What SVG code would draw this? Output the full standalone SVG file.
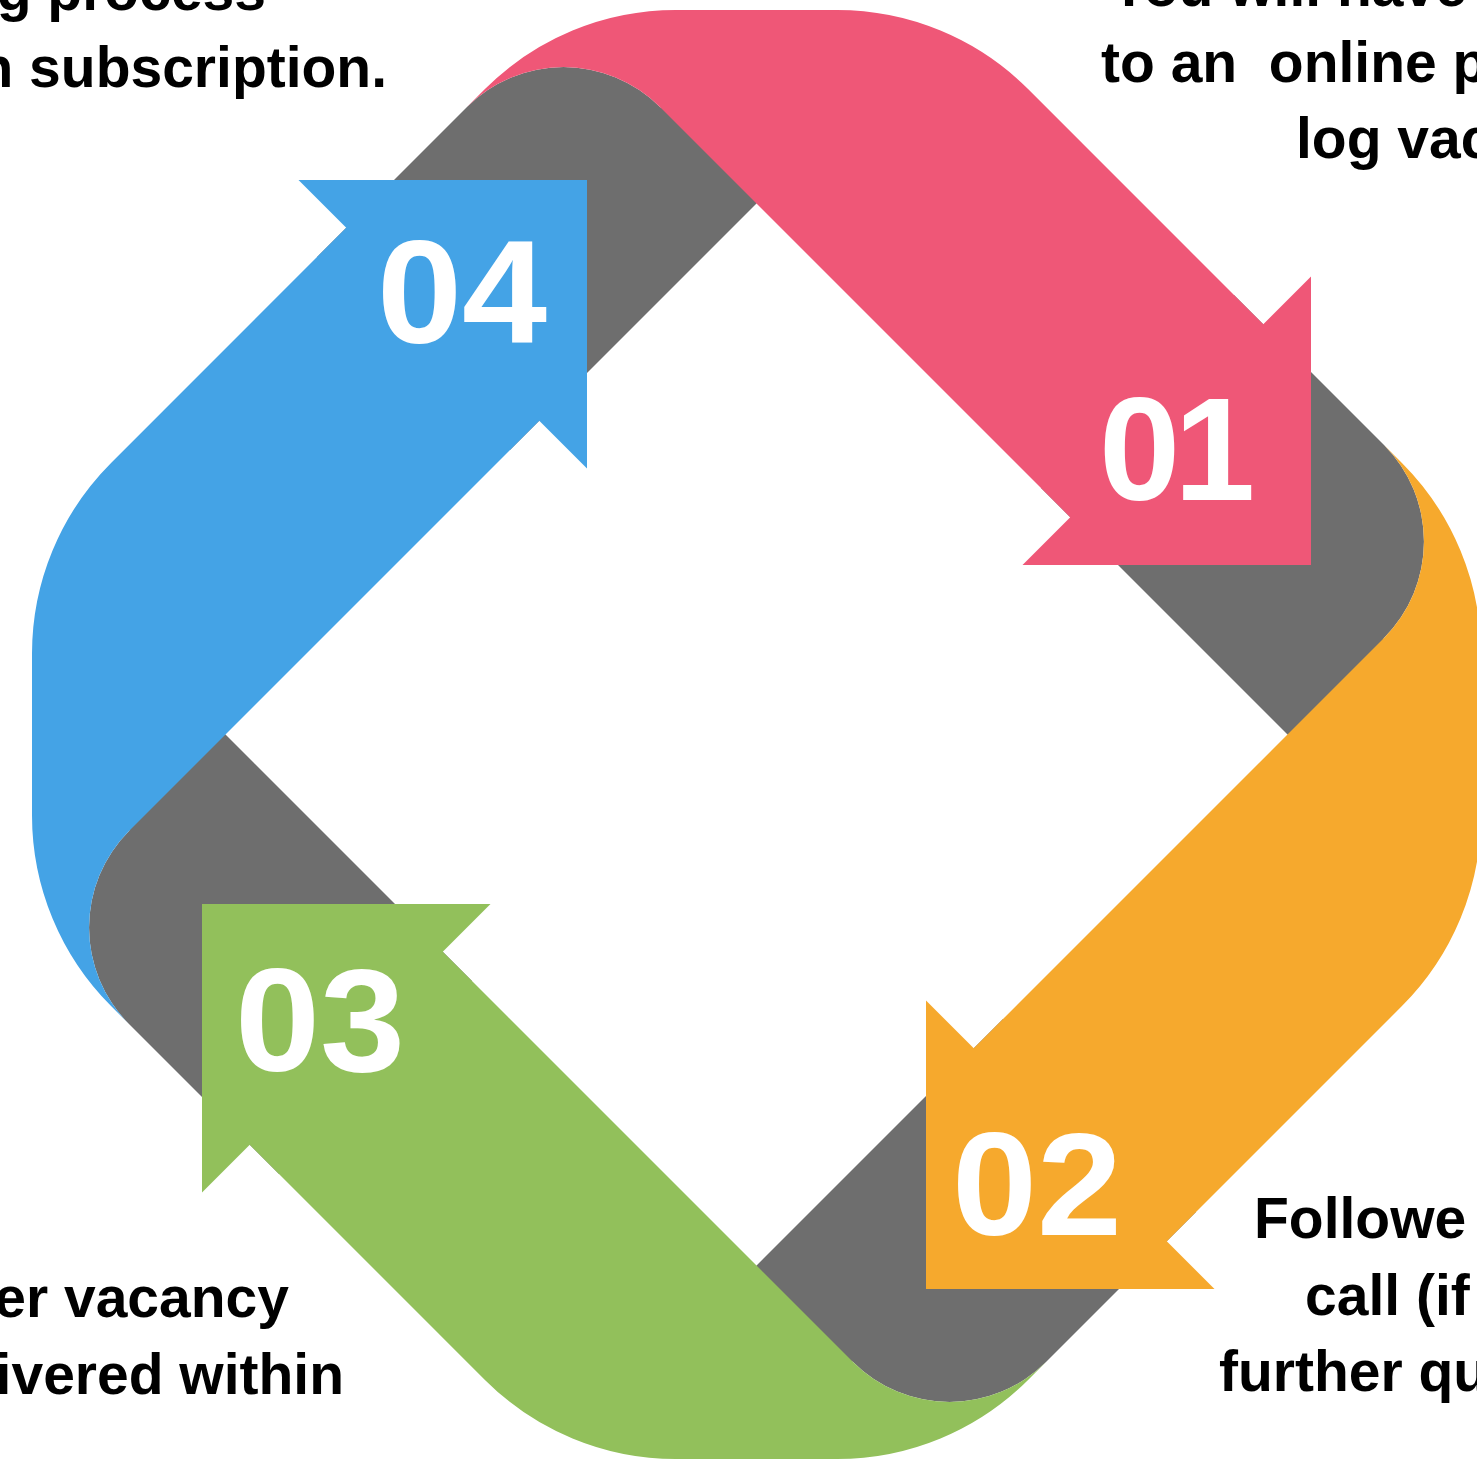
<svg xmlns="http://www.w3.org/2000/svg" xmlns:xlink="http://www.w3.org/1999/xlink" width="1477" height="1461" viewBox="0 0 1477 1461">
<style>
.txt{font-family:"Liberation Sans",Arial,sans-serif;font-weight:700;font-size:57px;fill:#000}
.num{font-family:"Liberation Sans",Arial,sans-serif;font-weight:700;font-size:146px;fill:#fff}
.fold{fill:#6e6e6e}
</style>
<defs>
<path id="strap" d="M467,107 A136.5,136.5 0 0 1 660,107 L1070.25,517.25 L1022.5,565 L1311,565 L1311,276.5 L1263.25,324.25 L1028.05,89.05 A270,270 0 0 0 837.2,10 L675.8,10 A270,270 0 0 0 484.95,89.05 Z"/>
<path id="foldshape" d="M467,107 A136.5,136.5 0 0 1 660,107 L780,180 L510,450 L317,257 Z"/>
</defs>
<rect width="1477" height="1461" fill="#fff"/>
<g id="connectors">
<use href="#foldshape" class="fold"/>
<use href="#foldshape" class="fold" transform="rotate(90 756.5 734.5)"/>
<use href="#foldshape" class="fold" transform="rotate(180 756.5 734.5)"/>
<use href="#foldshape" class="fold" transform="rotate(270 756.5 734.5)"/>
</g>
<g id="step-01">
<use href="#strap" fill="#ef5777"/>
<text class="num" x="1099 1174" y="500">01</text>
</g>
<g id="step-02">
<use href="#strap" fill="#f6a92d" transform="rotate(90 756.5 734.5)"/>
<text class="num" x="952" y="1235" textLength="170" lengthAdjust="spacingAndGlyphs">02</text>
</g>
<g id="step-03">
<use href="#strap" fill="#92c05b" transform="rotate(180 756.5 734.5)"/>
<text class="num" x="235" y="1071" textLength="170" lengthAdjust="spacingAndGlyphs">03</text>
</g>
<g id="step-04">
<use href="#strap" fill="#44a3e6" transform="rotate(270 756.5 734.5)"/>
<text class="num" x="377" y="343" textLength="170" lengthAdjust="spacingAndGlyphs">04</text>
</g>
<g id="labels">
<text class="txt" x="266" y="10" text-anchor="end">g process</text>
<text class="txt" x="387" y="87" text-anchor="end">n subscription.</text>
<text class="txt" x="1110" y="6">You will have</text>
<text class="txt" x="1101" y="82" style="white-space:pre">to an  online p</text>
<text class="txt" x="1296" y="158">log vac</text>
<text class="txt" x="289" y="1317" text-anchor="end">er vacancy</text>
<text class="txt" x="344" y="1394" text-anchor="end">ivered within</text>
<text class="txt" x="1254" y="1238">Followe</text>
<text class="txt" x="1305" y="1315">call (if</text>
<text class="txt" x="1219" y="1391">further qu</text>
</g>
</svg>
